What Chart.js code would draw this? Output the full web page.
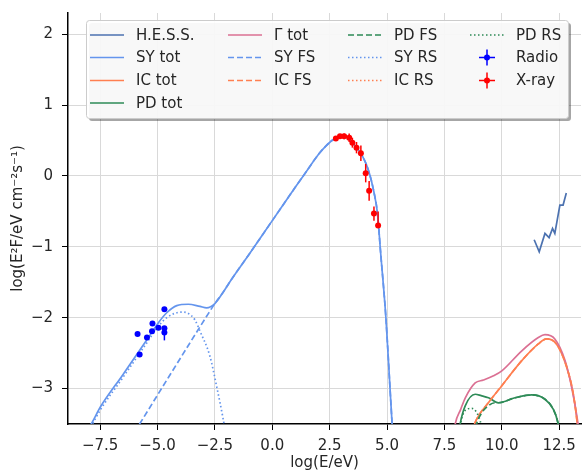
<!DOCTYPE html>
<html lang="en">
<head>
<meta charset="UTF-8">
<title>SED</title>
<script src="https://cdn.jsdelivr.net/npm/chart.js@4.4.0/dist/chart.umd.min.js"></script>
<style>
  html, body { margin: 0; padding: 0; background: #fff; }
  .chart-container { width: 585px; height: 472px; }
</style>
</head>
<body>
<div class="chart-container"><canvas id="sedChart" width="585" height="472"></canvas></div>
<script>
// tick positions
var xTicks = [-7.5, -5.0, -2.5, 0.0, 2.5, 5.0, 7.5, 10.0, 12.5];
var yTicks = [-3, -2, -1, 0, 1, 2];

// H.E.S.S. spectrum
var hessX = [11.41, 11.63, 11.88, 12.06, 12.21, 12.31, 12.53, 12.67, 12.81];
var hessY = [-0.90, -1.07, -0.81, -0.87, -0.74, -0.81, -0.41, -0.41, -0.24];

// synchrotron
var syTotX = [-9, -7.89, -7.49, -6.5, -5.5, -4.96, -4.6, -4.16, -3.66, -3.15, -2.86, -2.5, -2.14, -1.78, -1, 0, 1, 1.5, 2.0, 2.3, 2.6, 2.9, 3.15, 3.49, 3.93, 4.22, 4.43, 4.58, 4.72, 4.95, 5.13, 5.22, 5.3];
var syTotY = [-4.02, -3.5, -3.26, -2.80, -2.33, -2.07, -1.93, -1.83, -1.81, -1.84, -1.86, -1.80, -1.64, -1.46, -1.10, -0.63, -0.16, 0.07, 0.30, 0.41, 0.50, 0.55, 0.56, 0.47, 0.28, 0.05, -0.23, -0.52, -1.08, -2.0, -3.0, -3.5, -4.0];
var syFsX = [-6.2, -5.78, -4.5, -3.5, -2.86, -2.5, -2.14, -1.78, -1, 0, 1, 1.5, 2.0, 2.3, 2.6, 2.9, 3.15, 3.49, 3.93, 4.22, 4.43, 4.58, 4.72, 4.95, 5.13, 5.22, 5.3];
var syFsY = [-3.72, -3.5, -2.83, -2.31, -1.98, -1.80, -1.64, -1.46, -1.10, -0.63, -0.16, 0.07, 0.30, 0.41, 0.50, 0.55, 0.56, 0.47, 0.28, 0.05, -0.23, -0.52, -1.08, -2.0, -3.0, -3.5, -4.0];
var syRsX = [-9, -7.89, -7.49, -6.5, -5.5, -4.96, -4.6, -3.95, -3.66, -3.37, -3.15, -2.72, -2.43, -2.14, -2.0];
var syRsY = [-4.05, -3.53, -3.30, -2.84, -2.37, -2.12, -2.0, -1.92, -1.94, -2.03, -2.19, -2.54, -2.96, -3.43, -3.7];

// inverse Compton
var icTotX = [8.5, 8.81, 9.49, 10.0, 10.86, 11.59, 11.95, 12.38, 12.81, 13.1, 13.29, 13.4];
var icTotY = [-3.85, -3.5, -3.17, -2.96, -2.61, -2.37, -2.30, -2.37, -2.68, -3.05, -3.5, -3.9];
var icFsX = icTotX;
var icFsY = icTotY;
var icRsX = [];
var icRsY = [];

// pion decay
var pdTotX = [8.1, 8.19, 8.41, 8.84, 9.1, 9.42, 9.85, 10.58, 11.30, 11.88, 12.24, 12.45, 12.5];
var pdTotY = [-3.7, -3.49, -3.24, -3.08, -3.10, -3.13, -3.20, -3.13, -3.09, -3.15, -3.29, -3.49, -3.6];
var pdFsX = [8.7, 8.9, 9.13, 9.42, 9.7, 9.85, 10.58, 11.30, 11.88, 12.24, 12.45, 12.5];
var pdFsY = [-3.8, -3.5, -3.34, -3.24, -3.20, -3.20, -3.13, -3.09, -3.15, -3.29, -3.49, -3.6];
var pdRsX = [8.1, 8.25, 8.48, 8.7, 8.91, 9.06, 9.15];
var pdRsY = [-3.7, -3.42, -3.29, -3.28, -3.34, -3.46, -3.6];

// total gamma
var gamTotX = [7.85, 7.97, 8.2, 8.41, 8.84, 9.2, 9.64, 10.0, 10.86, 11.59, 11.88, 12.31, 12.74, 13.03, 13.32, 13.4];
var gamTotY = [-3.8, -3.5, -3.3, -3.13, -2.92, -2.88, -2.82, -2.75, -2.47, -2.28, -2.24, -2.30, -2.59, -2.96, -3.49, -3.7];

// radio data
var radioX = [-5.87, -5.78, -5.46, -5.24, -5.22, -4.96, -4.70, -4.70, -4.70];
var radioY = [-2.23, -2.52, -2.28, -2.19, -2.08, -2.14, -1.88, -2.15, -2.21];
var radioErrLo = [0.02, 0.02, 0.02, 0.02, 0.02, 0.02, 0.02, 0.02, 0.11];
var radioErrHi = [0.02, 0.02, 0.02, 0.02, 0.02, 0.02, 0.02, 0.02, 0.02];

// X-ray data
var xrayX = [2.77, 2.95, 3.13, 3.35, 3.49, 3.67, 3.86, 4.07, 4.22, 4.43, 4.61];
var xrayY = [0.53, 0.56, 0.56, 0.54, 0.47, 0.40, 0.32, 0.04, -0.21, -0.53, -0.70];
var xrayErrLo = [0.02, 0.03, 0.04, 0.06, 0.07, 0.08, 0.11, 0.13, 0.14, 0.10, 0.03];
var xrayErrHi = [0.02, 0.03, 0.04, 0.06, 0.07, 0.08, 0.11, 0.13, 0.14, 0.10, 0.20];

var SY = '#6495ED', IC = '#FF7F50', PD = '#2E8B57', GAM = '#DB7093', HESS = '#4C72B0';
var DASH = [6, 3], DOT = [1.5, 2.5];
var FONT = '"DejaVu Sans", Verdana, sans-serif';
var TXT = '#262626';

function pts(xs, ys) {
    return xs.map(function (x, i) { return { x: x, y: ys[i] }; });
}

function curve(label, xs, ys, color, dash, smooth) {
    return {
        type: 'line', label: label, data: pts(xs, ys),
        borderColor: color, backgroundColor: color, borderWidth: 1.7,
        borderDash: dash || [], pointRadius: 0, fill: false,
        cubicInterpolationMode: smooth === false ? 'default' : 'monotone', tension: 0
    };
}

function points(label, xs, ys, lo, hi, color) {
    return {
        type: 'scatter', label: label, data: pts(xs, ys), errLo: lo, errHi: hi,
        borderColor: color, backgroundColor: color, pointRadius: 3, pointBorderWidth: 0,
        showLine: false, isErr: true
    };
}

var datasets = [
    curve('H.E.S.S.', hessX, hessY, HESS, [], false),
    curve('SY tot', syTotX, syTotY, SY),
    curve('IC tot', icTotX, icTotY, IC),
    curve('PD tot', pdTotX, pdTotY, PD),
    curve('\u0393 tot', gamTotX, gamTotY, GAM),
    curve('SY FS', syFsX, syFsY, SY, DASH),
    curve('IC FS', icFsX, icFsY, IC, DASH),
    curve('PD FS', pdFsX, pdFsY, PD, DASH),
    curve('SY RS', syRsX, syRsY, SY, DOT),
    curve('IC RS', icRsX, icRsY, IC, DOT),
    curve('PD RS', pdRsX, pdRsY, PD, DOT),
    points('Radio', radioX, radioY, radioErrLo, radioErrHi, '#0000FF'),
    points('X-ray', xrayX, xrayY, xrayErrLo, xrayErrHi, '#FF0000')
];
// later datasets on top, like matplotlib
datasets.forEach(function (d, i) { d.order = datasets.length - i; });

var errorBars = {
    id: 'errorBars',
    afterDatasetsDraw: function (chart) {
        var ctx = chart.ctx, xs = chart.scales.x, ys = chart.scales.y;
        ctx.save();
        chart.data.datasets.forEach(function (d) {
            if (!d.isErr) return;
            ctx.strokeStyle = d.borderColor;
            ctx.lineWidth = 1.5;
            d.data.forEach(function (p, i) {
                var px = xs.getPixelForValue(p.x);
                ctx.beginPath();
                ctx.moveTo(px, ys.getPixelForValue(p.y - d.errLo[i]));
                ctx.lineTo(px, ys.getPixelForValue(p.y + d.errHi[i]));
                ctx.stroke();
            });
        });
        ctx.restore();
    }
};

// legend in 4 columns filled top-down, like matplotlib ncol=4
var boxLegend = {
    id: 'boxLegend',
    afterDraw: function (chart) {
        var ctx = chart.ctx;
        var bx = 86, by = 20, bw = 482, bh = 98;
        var colX = [90, 228, 348, 470];
        var rowY = [35, 57.5, 80.5, 103];
        var perCol = [4, 3, 3, 3];
        ctx.save();
        ctx.fillStyle = 'rgba(0,0,0,0.35)';
        roundRect(ctx, bx + 3, by + 3, bw, bh, 3); ctx.fill();
        ctx.fillStyle = 'rgba(255,255,255,0.92)';
        ctx.strokeStyle = '#cccccc';
        ctx.lineWidth = 1;
        roundRect(ctx, bx + 0.5, by + 0.5, bw, bh, 3); ctx.fill(); ctx.stroke();

        ctx.font = '15px ' + FONT;
        ctx.textBaseline = 'middle';
        ctx.fillStyle = TXT;
        var idx = 0;
        for (var c = 0; c < 4; c++) {
            for (var r = 0; r < perCol[c]; r++) {
                var d = chart.data.datasets[idx++];
                var hx = colX[c], hy = rowY[r];
                ctx.save();
                ctx.strokeStyle = d.borderColor;
                if (d.isErr) {
                    ctx.lineWidth = 1.5;
                    ctx.beginPath();
                    ctx.moveTo(hx + 9, hy); ctx.lineTo(hx + 25, hy);
                    ctx.moveTo(hx + 17, hy - 8); ctx.lineTo(hx + 17, hy + 8);
                    ctx.stroke();
                    ctx.fillStyle = d.backgroundColor;
                    ctx.beginPath(); ctx.arc(hx + 17, hy, 3, 0, Math.PI * 2); ctx.fill();
                } else {
                    ctx.lineWidth = d.borderWidth;
                    ctx.setLineDash(d.borderDash);
                    ctx.beginPath();
                    ctx.moveTo(hx, hy); ctx.lineTo(hx + 34, hy);
                    ctx.stroke();
                }
                ctx.restore();
                ctx.fillText(d.label, hx + 46, hy + 1);
            }
        }
        ctx.restore();
    }
};

function roundRect(ctx, x, y, w, h, r) {
    ctx.beginPath();
    ctx.moveTo(x + r, y);
    ctx.arcTo(x + w, y, x + w, y + h, r);
    ctx.arcTo(x + w, y + h, x, y + h, r);
    ctx.arcTo(x, y + h, x, y, r);
    ctx.arcTo(x, y, x + w, y, r);
    ctx.closePath();
}

function minus(s) { return String(s).replace('-', '\u2212'); }

new Chart(document.getElementById('sedChart'), {
    type: 'line',
    data: { datasets: datasets },
    plugins: [errorBars, boxLegend],
    options: {
        responsive: false,
        animation: false,
        devicePixelRatio: 1,
        layout: { padding: { top: 13, right: 2, left: 0, bottom: 0 } },
        plugins: { legend: { display: false }, tooltip: { enabled: false } },
        scales: {
            x: {
                type: 'linear', min: -8.9, max: 13.45,
                afterBuildTicks: function (s) { s.ticks = xTicks.map(function (v) { return { value: v }; }); },
                afterFit: function (s) { s.height = 48; s.paddingLeft = 0; s.paddingRight = 0; },
                ticks: {
                    color: TXT, font: { family: FONT, size: 15 }, padding: 7, maxRotation: 0, autoSkip: false,
                    callback: function (v) { return minus(v.toFixed(1)); }
                },
                grid: { color: '#d9d9d9', lineWidth: 1, tickColor: '#000', tickLength: 6 },
                border: { color: '#000', width: 1.5 },
                title: { display: true, text: 'log(E/eV)', color: TXT, font: { family: FONT, size: 15 }, padding: { top: 0, bottom: 0 } }
            },
            y: {
                type: 'linear', min: -3.5, max: 2.3,
                afterBuildTicks: function (s) { s.ticks = yTicks.map(function (v) { return { value: v }; }); },
                afterFit: function (s) { s.width = 68; s.paddingTop = 0; s.paddingBottom = 0; },
                ticks: {
                    color: TXT, font: { family: FONT, size: 15 }, padding: 9,
                    callback: function (v) { return minus(v); }
                },
                grid: { color: '#d9d9d9', lineWidth: 1, tickColor: '#000', tickLength: 6 },
                border: { color: '#000', width: 1.5 },
                title: { display: true, text: 'log(E\u00b2F/eV cm\u207b\u00b2s\u207b\u00b9)', color: TXT, font: { family: FONT, size: 15 }, padding: { top: 9, bottom: 0 } }
            }
        }
    }
});
</script>
</body>
</html>
